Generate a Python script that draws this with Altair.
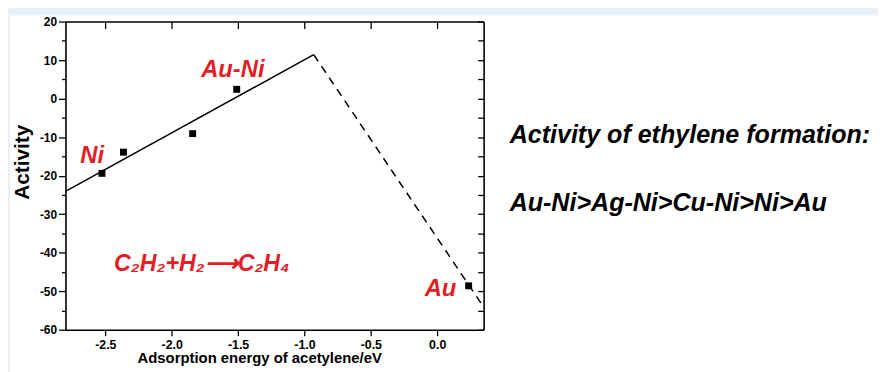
import altair as alt
import pandas as pd

# ---- data ----
energy_pts = [-2.525, -2.363, -1.842, -1.510, 0.237]
activity_pts = [-19.4, -13.9, -9.1, 2.4, -48.6]

fit_x = [-2.8, -0.93]
fit_y = [-24.1, 11.4]
dash_x = [-0.93, 0.35]
dash_y = [11.4, -54.1]

x_ticks = [-2.5, -2.0, -1.5, -1.0, -0.5, 0.0]
y_ticks = [-60, -50, -40, -30, -20, -10, 0, 10, 20]
y_minor = [-55, -45, -35, -25, -15, -5, 5, 15]
y_all = [-60, -55, -50, -45, -40, -35, -30, -25, -20, -15, -10, -5, 0, 5, 10, 15, 20]

label_text = ["Ni", "Au-Ni", "Au"]
label_x = [-2.599, -1.539, 0.025]
label_y = [-16.8, 5.6, -51.25]

reaction_text = ["C\u2082H\u2082+H\u2082\u27f6C\u2082H\u2084"]
reaction_x = [-2.434]
reaction_y = [-44.8]

side_text = ["Activity of ethylene formation:", "Au-Ni>Ag-Ni>Cu-Ni>Ni>Au"]
side_x = [0.546, 0.546]
side_y = [-11.4, -29.3]

FONT = "Liberation Sans"
RED = "#e31e26"
W, H = 422, 311

xs = alt.Scale(domain=[-2.8, 0.35], nice=False, zero=False)
ys = alt.Scale(domain=[-60, 20], nice=False, zero=False)
minus_fix = "replace(format(datum.value, '.1f'), '\u2212', '-')"
minus_fix_d = "replace(format(datum.value, 'd'), '\u2212', '-')"

panel = alt.Chart(pd.DataFrame({"a": [0]})).mark_rect(color="white").encode(
    x=alt.value(-56), x2=alt.value(830), y=alt.value(-6), y2=alt.value(360)
)

fit_df = pd.DataFrame({"x": fit_x, "y": fit_y})
dash_df = pd.DataFrame({"x": dash_x, "y": dash_y})
pts_df = pd.DataFrame({"x": energy_pts, "y": activity_pts})
lab_df = pd.DataFrame({"x": label_x, "y": label_y, "t": label_text})
rx_df = pd.DataFrame({"x": reaction_x, "y": reaction_y, "t": reaction_text})
side_df = pd.DataFrame({"x": side_x, "y": side_y, "t": side_text})

solid = alt.Chart(fit_df).mark_line(color="black", strokeWidth=1.5, clip=True).encode(
    x=alt.X("x:Q", scale=xs, axis=alt.Axis(
        orient="bottom", values=x_ticks, labelExpr=minus_fix, tickSize=6,
        labelPadding=3, labelFontSize=12.5, title="Adsorption energy of acetylene/eV",
        titleFontSize=15, titleX=195.5, titleY=33.5, titleBaseline="alphabetic",
        titleAlign="center", zindex=2)),
    y=alt.Y("y:Q", scale=ys, axis=alt.Axis(
        orient="left", values=y_ticks, labelExpr=minus_fix_d, tickSize=7,
        labelPadding=2, title="Activity", titleFontSize=21,
        titleX=-37.5, titleY=141.5, titleBaseline="alphabetic",
        titleAlign="center", titleAngle=270, zindex=2)),
)

dashed = alt.Chart(dash_df).mark_line(color="black", strokeWidth=1.5,
                                      strokeDash=[8, 6], clip=True).encode(
    x=alt.X("x:Q", scale=xs, axis=alt.Axis(
        orient="bottom", offset=-H, values=x_ticks, labels=False,
        tickSize=7, title=None, zindex=2)),
    y=alt.Y("y:Q", scale=ys, axis=alt.Axis(
        orient="left", offset=-W, values=y_all, labels=False,
        tickSize=6, title=None, zindex=2)),
)

points = alt.Chart(pts_df).mark_square(size=49, color="black", opacity=1).encode(
    x=alt.X("x:Q", scale=xs, axis=None),
    y=alt.Y("y:Q", scale=ys, axis=alt.Axis(
        orient="left", values=y_minor, labels=False, domain=False,
        tickSize=4, title=None, zindex=2)),
)

labels = alt.Chart(lab_df).mark_text(
    font=FONT, fontSize=24, fontWeight="bold", fontStyle="italic",
    color=RED, align="center", baseline="alphabetic").encode(
    x=alt.X("x:Q", scale=xs, axis=None),
    y=alt.Y("y:Q", scale=ys, axis=None),
    text="t:N",
)

reaction = alt.Chart(rx_df).mark_text(
    font=FONT, fontSize=23.5, fontWeight="bold", fontStyle="italic",
    color=RED, align="left", baseline="alphabetic").encode(
    x=alt.X("x:Q", scale=xs, axis=None),
    y=alt.Y("y:Q", scale=ys, axis=None),
    text="t:N",
)

side = alt.Chart(side_df).mark_text(
    font=FONT, fontSize=25.3, fontWeight="bold", fontStyle="italic",
    color="black", align="left", baseline="alphabetic").encode(
    x=alt.X("x:Q", scale=xs, axis=None),
    y=alt.Y("y:Q", scale=ys, axis=None),
    text="t:N",
)

chart = alt.layer(panel, solid, dashed, points, labels, reaction, side).resolve_axis(
    x="independent", y="independent"
).properties(
    width=W, height=H,
    autosize=alt.AutoSizeParams(type="none"),
    padding={"left": 58, "top": 12, "right": 398, "bottom": 41},
    background="#e8f0f6",
).configure_view(stroke=None).configure_axis(
    labelFont=FONT, labelFontSize=12, labelFontWeight="bold", labelColor="black",
    titleFont=FONT, titleFontWeight="bold", titleColor="black",
    domainColor="black", domainWidth=1.6, tickColor="black", tickWidth=1.3,
    grid=False,
)

chart.save("out.html", embed_options={"renderer": "svg", "actions": False})
